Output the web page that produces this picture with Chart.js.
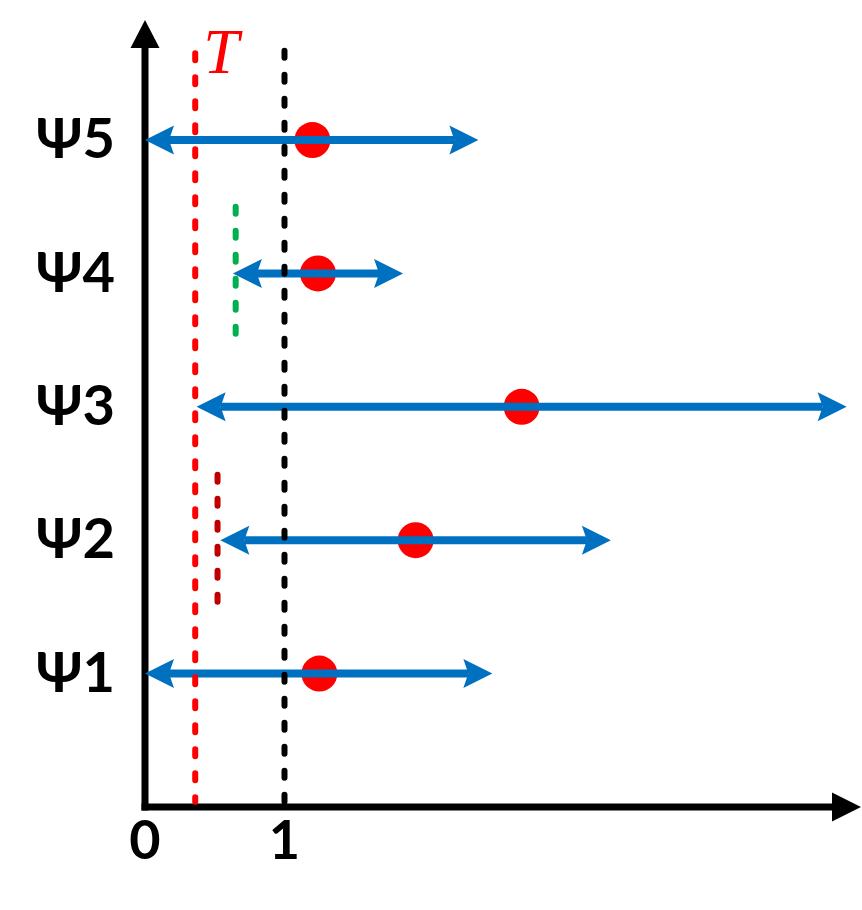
<!DOCTYPE html>
<html>
<head>
<meta charset="utf-8">
<script src="https://cdn.jsdelivr.net/npm/chart.js@4.4.1/dist/chart.umd.min.js"></script>
<style>
html,body{margin:0;padding:0;background:#fff;}
canvas{display:block;}
</style>
</head>
<body>
<canvas id="c" width="862" height="910"></canvas>
<script>
// ---- data ----
const rowLabels = ['Ψ1', 'Ψ2', 'Ψ3', 'Ψ4', 'Ψ5'];
const rowPos = [1, 2, 3, 4, 5];
const lowerBound = [0, 0.54, 0.37, 0.63, 0];
const upperBound = [2.49, 3.34, 5.03, 1.85, 2.39];
const estimate = [1.25, 1.94, 2.70, 1.24, 1.20];
const xTickValues = [0, 1];
const thresholdT = 0.36;
const thresholdLabel = 'T';
const referenceValue = 1;
const refLineRange = [5.67, 0.04];
const tLineRange = [5.65, 0.04];
const greenMark = { x: 0.65, from: 4.5, to: 3.5 };
const darkRedMark = { x: 0.52, from: 2.49, to: 1.5 };
const xRange = [0, 5.14];
const yRange = [0, 5.9];

// ---- datasets ----
const datasets = [];
const dashStyle = { borderWidth: 6, borderDash: [7, 17], borderCapStyle: 'round', pointRadius: 0, fill: false };
datasets.push(Object.assign({ type: 'line', label: 'T', borderColor: '#FF0000',
  data: [{ x: thresholdT, y: tLineRange[0] }, { x: thresholdT, y: tLineRange[1] }] }, dashStyle));
datasets.push(Object.assign({ type: 'line', label: 'ref', borderColor: '#000000',
  data: [{ x: referenceValue, y: refLineRange[0] }, { x: referenceValue, y: refLineRange[1] }] }, dashStyle));
datasets.push(Object.assign({ type: 'line', label: 'g', borderColor: '#00B050',
  data: [{ x: greenMark.x, y: greenMark.from }, { x: greenMark.x, y: greenMark.to }] }, dashStyle));
datasets.push(Object.assign({ type: 'line', label: 'dr', borderColor: '#C00000',
  data: [{ x: darkRedMark.x, y: darkRedMark.from }, { x: darkRedMark.x, y: darkRedMark.to }] }, dashStyle));
rowPos.forEach((r, i) => {
  datasets.push({ type: 'line', label: rowLabels[i], isArrow: true, borderColor: '#0070C0', borderWidth: 8,
    borderCapStyle: 'butt', pointRadius: 0, fill: false,
    data: [{ x: lowerBound[i], y: r }, { x: upperBound[i], y: r }] });
});
datasets.push({ type: 'scatter', label: 'est', pointRadius: 18, pointHoverRadius: 18,
  backgroundColor: '#FF0000', borderWidth: 0,
  data: rowPos.map((r, i) => ({ x: estimate[i], y: r })) });

const AH_LEN = 29, AH_HALF = 14.5, AH_NOTCH = 5;

const drawPlugin = {
  id: 'drawPlugin',
  beforeDatasetsDraw(chart) {
    const ctx = chart.ctx, xs = chart.scales.x, ys = chart.scales.y;
    const x0 = xs.getPixelForValue(0), y0 = ys.getPixelForValue(0);
    const ca = chart.chartArea;
    ctx.save();
    ctx.strokeStyle = '#000'; ctx.fillStyle = '#000'; ctx.lineWidth = 7; ctx.lineCap = 'butt';
    // y axis
    ctx.beginPath(); ctx.moveTo(x0, y0 + 3.5); ctx.lineTo(x0, ca.top + 26); ctx.stroke();
    ctx.beginPath(); ctx.moveTo(x0, ca.top); ctx.lineTo(x0 - 14.5, ca.top + 28); ctx.lineTo(x0 + 14.5, ca.top + 28); ctx.closePath(); ctx.fill();
    // x axis
    ctx.beginPath(); ctx.moveTo(x0 - 3.5, y0); ctx.lineTo(ca.right - 28, y0); ctx.stroke();
    ctx.beginPath(); ctx.moveTo(ca.right - 1, y0); ctx.lineTo(ca.right - 30, y0 - 14.5); ctx.lineTo(ca.right - 30, y0 + 14.5); ctx.closePath(); ctx.fill();
    ctx.restore();
    // shorten arrow lines so arrowheads have clean tips
    chart.data.datasets.forEach((ds, di) => {
      if (!ds.isArrow) return;
      const meta = chart.getDatasetMeta(di);
      const p0 = meta.data[0], p1 = meta.data[1];
      p0.x = xs.getPixelForValue(ds.data[0].x) + AH_LEN - AH_NOTCH;
      p1.x = xs.getPixelForValue(ds.data[1].x) - AH_LEN + AH_NOTCH;
    });
  },
  afterDatasetsDraw(chart) {
    const ctx = chart.ctx, xs = chart.scales.x, ys = chart.scales.y;
    ctx.save();
    chart.data.datasets.forEach((ds) => {
      if (!ds.isArrow) return;
      const y = ys.getPixelForValue(ds.data[0].y);
      const tips = [[xs.getPixelForValue(ds.data[0].x), -1], [xs.getPixelForValue(ds.data[1].x), 1]];
      ctx.fillStyle = ds.borderColor;
      tips.forEach(([tx, dir]) => {
        ctx.beginPath();
        ctx.moveTo(tx, y);
        ctx.lineTo(tx - dir * AH_LEN, y - AH_HALF);
        ctx.lineTo(tx - dir * (AH_LEN - AH_NOTCH), y);
        ctx.lineTo(tx - dir * AH_LEN, y + AH_HALF);
        ctx.closePath();
        ctx.fill();
      });
    });
    // T label
    const tx = xs.getPixelForValue(thresholdT), ty = ys.getPixelForValue(tLineRange[0]);
    ctx.fillStyle = '#FF0000';
    ctx.font = 'italic 64px "Liberation Serif"';
    ctx.textAlign = 'left'; ctx.textBaseline = 'alphabetic';
    ctx.fillText(thresholdLabel, tx + 8, ty + 20);
    ctx.restore();
  }
};

function zeroPad(s) { s.paddingTop = 0; s.paddingBottom = 0; s.paddingLeft = 0; s.paddingRight = 0; }

new Chart(document.getElementById('c'), {
  data: { datasets },
  options: {
    responsive: false,
    devicePixelRatio: 1,
    animation: false,
    events: [],
    layout: { autoPadding: false, padding: { top: 20, right: 0, left: 0, bottom: 0 } },
    plugins: { legend: { display: false }, tooltip: { enabled: false } },
    scales: {
      x: {
        type: 'linear', min: xRange[0], max: xRange[1],
        grid: { display: false, drawTicks: false, tickLength: 0 },
        border: { display: false },
        afterBuildTicks: (s) => { s.ticks = xTickValues.map(v => ({ value: v })); },
        afterFit: (s) => { s.height = 103; zeroPad(s); },
        ticks: { color: '#000', padding: 2, font: { family: 'Lato', weight: 'bold', size: 54 },
          maxRotation: 0, autoSkip: false, callback: (v) => String(v) }
      },
      y: {
        type: 'linear', min: yRange[0], max: yRange[1],
        grid: { display: false, drawTicks: false, tickLength: 0 },
        border: { display: false },
        afterBuildTicks: (s) => { s.ticks = rowPos.map(v => ({ value: v })); },
        afterFit: (s) => { s.width = 145; zeroPad(s); },
        ticks: { color: '#000', padding: 30, font: { family: 'Lato', weight: 'bold', size: 56 },
          autoSkip: false, callback: (v) => rowLabels[rowPos.indexOf(v)] }
      }
    }
  },
  plugins: [drawPlugin]
});
</script>
</body>
</html>
